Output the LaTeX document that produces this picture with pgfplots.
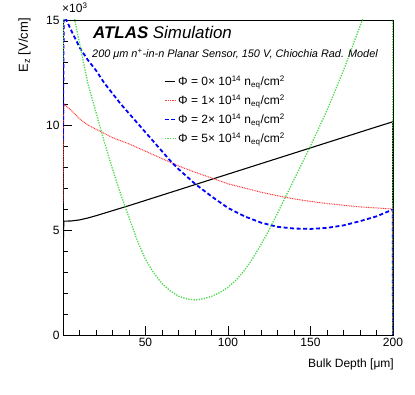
\documentclass[border=0pt]{standalone}
\usepackage{pgfplots}
\pgfplotsset{compat=1.18}
\usepackage{fontspec}
\setmainfont{Liberation Sans}
\definecolor{rootRed}{HTML}{FF3a3a}
\definecolor{rootGreen}{HTML}{4CD94C}
\definecolor{rootBlue}{HTML}{0000FF}

\newcommand{\phient}[1]{Φ = #1\texttimes\ 10\textsuperscript{14} n\textsubscript{eq}/cm\textsuperscript{2}}

\begin{document}
\begin{tikzpicture}[x=1pt,y=1pt]
\useasboundingbox (0,0) rectangle (415,395);
\begin{axis}[
  at={(63pt,60pt)}, anchor=south west,
  scale only axis, width=330pt, height=315pt,
  xmin=0, xmax=200, ymin=0, ymax=15,
  xtick={0,50,100,150,200}, xticklabels={,50,100,150,200},
  ytick={0,5,10,15},
  minor x tick num=4, minor y tick num=4,
  xtick pos=left, ytick pos=left,
  tick align=inside,
  major tick length=9pt, minor tick length=4.5pt,
  tick style={black, line width=0.6pt},
  axis line style={line width=0.8pt},
  ticklabel style={font=\fontsize{12}{12}\selectfont},
  /pgf/number format/assume math mode=true,
  legend style={at={(rel axis cs:0.305,0.83)}, anchor=north west,
    draw=none, fill=none, font=\fontsize{12}{13}\selectfont,
    row sep=3.6pt, inner sep=0pt},
  legend cell align=left,
  legend image code/.code={\draw[#1] (0pt,0pt) -- (10.5pt,0pt);},
]

% Phi = 0
\addplot[black, line width=1.1pt] coordinates {
  (0,3.7)(0.5,5.42)(5,5.43)(10,5.48)(15,5.57)(20,5.68)(25,5.8)(30,5.92)
  (40,6.16)(50,6.41)(60,6.66)(70,6.91)(80,7.16)(90,7.41)(100,7.66)
  (110,7.91)(120,8.16)(130,8.41)(140,8.66)(150,8.91)(160,9.16)(170,9.41)
  (180,9.66)(190,9.91)(199.8,10.15)(200,0)
};
\addlegendentry{\phient{0}}

% Phi = 1
\addplot[rootRed, line width=1pt, dash pattern=on 0.9pt off 0.8pt] coordinates {
  (0,6.3)(0.5,11.0)(5,10.7)(10,10.3)(15,10.0)(20,9.8)(25,9.6)(30,9.4)
  (40,9.1)(50,8.75)(60,8.4)(70,8.05)(80,7.75)(90,7.48)(100,7.2)(110,7.0)
  (120,6.8)(130,6.63)(140,6.48)(150,6.36)(160,6.26)(170,6.18)(180,6.1)
  (190,6.05)(199.8,6.0)(200,0)
};
\addlegendentry{\phient{1}}

% Phi = 2
\addplot[rootBlue, line width=1.8pt, dash pattern=on 4pt off 2.5pt] coordinates {
  (0,9.3)(0.5,15.6)(2,15.0)(5,14.5)(10,13.7)(15,13.1)(20,12.6)(25,12.0)
  (30,11.5)(35,11.0)(40,10.55)(45,10.1)(50,9.65)(55,9.2)(60,8.75)(65,8.3)
  (70,7.9)(80,7.2)(90,6.6)(100,6.05)(110,5.65)(120,5.35)(130,5.15)
  (140,5.07)(150,5.05)(160,5.1)(170,5.22)(180,5.42)(190,5.65)(199.8,5.97)(200,0)
};
\addlegendentry{\phient{2}}

% Phi = 5
\addplot[rootGreen, line width=1.3pt, dash pattern=on 1.3pt off 1.3pt] coordinates {
  (0,13)(0.5,17.6)(5,15.8)(10,13.9)(15,12.0)(20,10.6)(25,9.2)(30,7.9)
  (35,6.7)(40,5.6)(45,4.5)(50,3.6)(55,2.95)(60,2.45)(65,2.1)(70,1.85)
  (75,1.72)(80,1.67)(85,1.72)(90,1.84)(95,2.02)(100,2.27)(105,2.62)
  (110,3.08)(115,3.65)(120,4.3)(125,5.02)(130,5.8)(140,7.4)(150,9.0)
  (160,10.7)(170,12.6)(180,14.7)(190,16.8)(199.8,19.0)(200,0)
};
\addlegendentry{\phient{5}}

\end{axis}

\node[anchor=base west, inner sep=0pt, font=\fontsize{16.9}{16.9}\selectfont\itshape] at (93,356.7)
  {\textbf{ATLAS} Simulation};
\node[anchor=base west, inner sep=0pt, font=\fontsize{10.9}{10.9}\selectfont\itshape] at (92,337.7)
  {200 μm n\textsuperscript{+}-in-n Planar Sensor, 150 V, Chiochia Rad. Model};
\node[anchor=base west, font=\fontsize{12}{12}\selectfont, inner sep=0pt] at (62,382)
  {×10\textsuperscript{3}};
\node[rotate=90, anchor=base east, font=\fontsize{13}{13}\selectfont, inner sep=0pt] at (28,377)
  {E\textsubscript{z} [V/cm]};
\node[anchor=base east, font=\fontsize{12}{12}\selectfont, inner sep=0pt] at (394,27.7)
  {Bulk Depth [μm]};
\end{tikzpicture}
\end{document}
